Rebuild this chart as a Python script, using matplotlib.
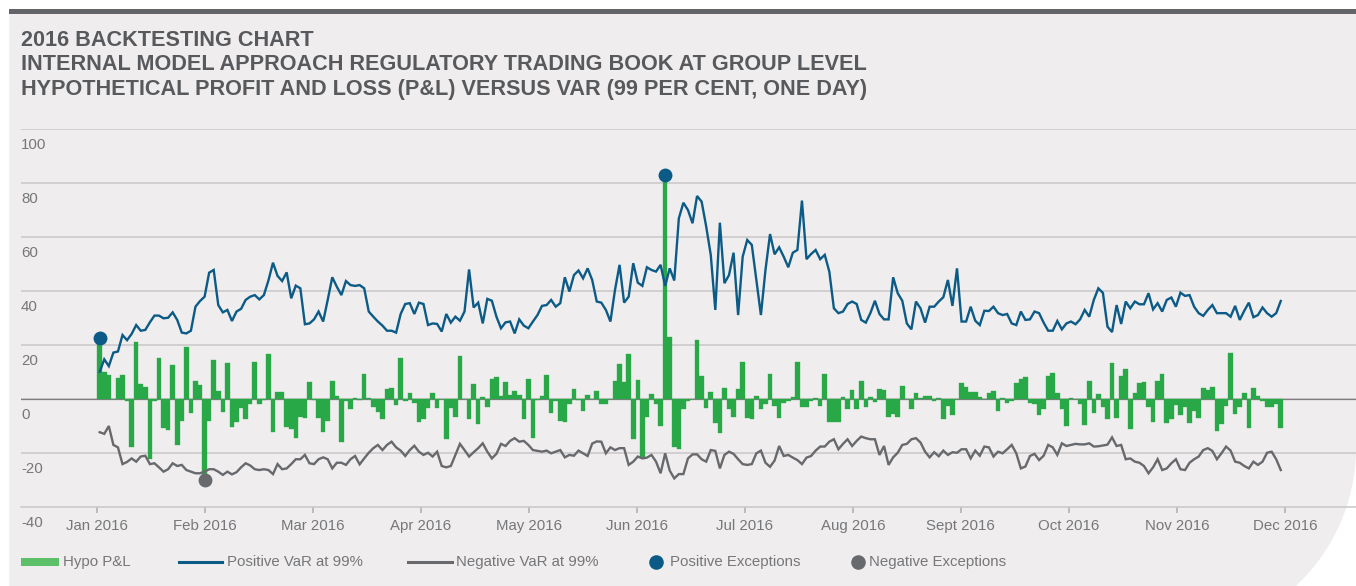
import numpy as np
import matplotlib
matplotlib.use("Agg")
import matplotlib.pyplot as plt
from matplotlib.patches import Rectangle, PathPatch
from matplotlib.path import Path
from matplotlib.lines import Line2D
import matplotlib.transforms as mtransforms

plt.rcParams['font.family'] = ['Liberation Sans', 'DejaVu Sans']

# ---- data (daily, Jan - Nov 2016) -------------------------------------------
hypo_pnl = [
    22.6, 10.1, 8.9, 0.0, 7.8, 8.9, -0.7, -17.5, 21.2, 5.7,
    4.6, -22.0, -0.7, 15.3, -10.5, -11.2, 12.7, -16.8, -7.9, 19.4,
    -4.9, 6.8, 5.3, -29.9, -7.9, 14.6, 3.1, -4.6, 13.5, -10.1,
    -8.3, -3.3, -7.2, -1.6, 13.8, -1.6, -0.3, 16.8, -12.0, 2.7,
    2.7, -10.1, -11.1, -14.4, -6.4, -7.0, 6.4, -0.3, -7.0, -12.0,
    -7.9, 6.8, 1.2, -16.0, -0.5, -3.7, 0.5, -0.2, 9.4, 0.5,
    -2.7, -4.6, -7.4, 3.7, 4.2, -2.1, 15.3, -0.5, 2.3, -1.2,
    -8.3, -7.4, -3.3, 2.3, -3.3, 0.0, -14.8, -3.3, -6.4, 15.9,
    0.0, -7.2, 5.7, -9.3, 0.7, -3.0, 7.4, 8.3, 1.2, 6.4,
    1.6, 3.1, 1.6, -7.2, 7.4, -14.4, -0.2, 1.2, 9.0, -4.9,
    -0.7, -7.9, -8.3, -1.9, 3.7, -0.2, -4.2, 1.6, 0.0, 3.1,
    -1.9, -1.9, 0.0, 6.8, 13.1, 6.5, 16.8, -14.8, 7.2, -21.2,
    -6.7, 1.9, -1.9, -9.8, 83.1, 23.1, -17.8, -18.5, -3.7, -0.7,
    0.0, 22.0, 8.6, -3.1, 2.6, -8.9, -12.3, 4.1, -3.7, -6.4,
    3.7, 13.8, -7.0, -7.4, 1.2, -3.7, -1.9, 9.3, -2.3, -7.0,
    -1.5, -0.5, 0.7, 13.8, -3.0, -3.0, -0.7, 0.4, -2.3, 9.4,
    -8.5, -8.3, -8.5, 0.9, -3.7, 3.5, -3.5, 6.8, -2.7, 0.9,
    -1.1, 3.8, 3.5, -6.4, -5.4, -6.7, 4.9, 0.0, -3.7, 2.3,
    0.6, 1.2, 1.2, -0.5, 0.5, -7.2, -2.3, -5.7, 0.0, 6.2,
    4.6, 2.7, 2.7, 0.9, 0.0, 2.3, 3.1, -4.2, 0.4, -1.2,
    -0.7, 6.0, 7.5, 8.3, -1.2, -1.9, -5.7, -3.5, 8.6, 9.8,
    2.5, -3.5, -9.8, 0.5, 0.0, -1.6, -9.4, 6.8, -4.9, 2.0,
    -3.0, -7.4, 13.6, -6.8, 8.6, 11.2, -11.1, 2.2, 6.2, 6.4,
    -2.7, -8.3, 6.8, 9.4, -8.9, -7.2, -2.1, -5.7, -3.0, -8.6,
    -4.2, -7.0, 4.1, 3.3, 4.4, -11.6, -9.3, -2.3, 17.0, -5.6,
    -2.7, 2.3, -10.7, 4.1, 1.1, -0.7, -3.0, -3.0, -1.6, -10.5,
]

var_pos = [
    10.2, 14.8, 12.3, 17.3, 17.7, 23.8, 21.9, 24.2, 27.5, 25.4,
    25.7, 28.5, 31.0, 31.0, 30.0, 30.2, 32.2, 29.4, 24.7, 24.4,
    25.4, 34.3, 36.4, 38.0, 46.9, 47.9, 34.9, 32.2, 33.1, 29.0,
    32.5, 33.5, 36.8, 38.0, 38.6, 37.0, 38.6, 44.0, 50.6, 45.7,
    43.8, 47.0, 37.4, 42.1, 41.1, 27.8, 28.1, 29.6, 32.5, 28.8,
    36.8, 45.2, 41.7, 38.6, 43.8, 42.3, 42.0, 42.3, 41.1, 32.5,
    30.6, 28.8, 27.3, 25.4, 25.4, 24.7, 31.6, 35.3, 35.6, 31.6,
    35.8, 35.3, 27.5, 28.1, 27.9, 25.1, 31.6, 28.4, 30.6, 29.1,
    32.5, 48.1, 34.0, 35.8, 28.1, 37.2, 36.5, 30.6, 26.3, 28.5,
    28.8, 24.4, 29.6, 27.3, 26.3, 28.8, 31.2, 34.6, 34.9, 36.8,
    34.3, 35.6, 45.2, 39.9, 46.0, 47.7, 44.8, 48.5, 44.2, 36.2,
    35.8, 33.1, 28.8, 40.5, 49.8, 35.8, 38.0, 50.4, 43.2, 42.0,
    48.9, 47.9, 47.3, 49.8, 42.0, 48.5, 44.0, 67.0, 72.8, 70.1,
    65.2, 75.3, 73.2, 64.0, 53.5, 33.1, 65.4, 43.0, 46.0, 54.3,
    31.2, 52.8, 59.0, 57.2, 44.2, 31.2, 47.9, 61.2, 53.7, 56.3,
    52.8, 48.9, 54.3, 55.3, 73.6, 51.9, 53.8, 55.3, 51.9, 53.5,
    47.3, 33.7, 31.9, 32.5, 35.3, 36.2, 35.3, 29.4, 28.4, 31.9,
    36.5, 31.6, 29.6, 29.6, 45.2, 39.3, 36.5, 28.1, 25.9, 36.2,
    33.7, 28.4, 34.3, 34.3, 36.2, 37.8, 44.2, 34.6, 48.5, 28.8,
    28.8, 34.3, 29.1, 27.5, 32.8, 32.7, 34.3, 31.9, 31.2, 31.6,
    28.1, 27.5, 32.5, 29.4, 29.6, 32.5, 31.9, 28.4, 25.4, 25.4,
    29.0, 25.9, 28.1, 28.8, 27.8, 29.6, 33.1, 30.6, 36.8, 41.1,
    39.4, 26.9, 24.9, 34.9, 27.9, 36.2, 33.7, 36.2, 35.2, 35.2,
    39.3, 33.3, 35.6, 32.5, 36.8, 37.7, 34.3, 39.5, 38.3, 38.6,
    34.3, 31.9, 30.9, 33.1, 34.9, 31.9, 31.9, 31.9, 30.6, 34.6,
    29.4, 32.8, 35.8, 30.4, 31.2, 34.0, 31.9, 30.6, 31.9, 36.4,
]

var_neg = [
    -12.2, -12.8, -9.9, -16.9, -17.8, -24.0, -23.2, -21.9, -23.1, -21.2,
    -20.9, -24.0, -23.7, -25.2, -26.8, -25.9, -23.7, -24.7, -24.3, -26.2,
    -26.8, -27.4, -27.4, -26.8, -25.9, -25.9, -26.8, -28.0, -26.8, -27.8,
    -27.0, -25.2, -23.7, -24.5, -25.9, -26.2, -25.9, -26.2, -27.7, -24.0,
    -25.9, -25.6, -24.0, -22.2, -22.2, -20.6, -23.7, -24.0, -22.2, -21.5,
    -22.2, -25.6, -23.5, -23.5, -24.3, -22.2, -21.0, -24.1, -21.9, -19.8,
    -18.1, -16.9, -18.8, -16.9, -15.7, -17.8, -19.0, -21.0, -18.8, -17.2,
    -19.4, -20.6, -19.8, -21.2, -19.4, -24.7, -25.2, -24.7, -20.6, -16.5,
    -18.8, -21.2, -19.6, -18.1, -16.3, -19.4, -21.9, -20.2, -16.5, -17.3,
    -15.4, -14.4, -15.7, -15.4, -16.9, -18.8, -19.1, -19.4, -19.0, -20.0,
    -19.4, -18.8, -21.5, -20.6, -20.9, -19.0, -20.0, -21.0, -16.4, -15.6,
    -15.7, -20.0, -17.8, -18.8, -18.1, -18.1, -24.3, -23.1, -21.2, -21.9,
    -21.6, -20.6, -23.1, -27.4, -20.0, -26.4, -29.3, -27.7, -27.7, -21.9,
    -20.4, -20.4, -22.2, -23.1, -18.8, -19.1, -25.6, -20.6, -19.4, -20.2,
    -22.2, -24.0, -24.3, -24.0, -20.0, -19.0, -23.5, -25.0, -22.7, -17.3,
    -21.0, -20.6, -21.6, -22.5, -24.0, -21.6, -21.0, -19.0, -17.5, -17.5,
    -15.7, -14.8, -18.5, -16.5, -14.8, -17.3, -15.4, -13.8, -14.4, -14.8,
    -14.8, -20.6, -17.3, -24.3, -21.5, -19.8, -16.9, -16.5, -14.8, -14.4,
    -16.0, -19.4, -21.5, -19.6, -21.1, -19.0, -20.6, -19.6, -19.8, -18.5,
    -18.5, -21.9, -19.0, -20.9, -17.5, -17.8, -21.2, -19.4, -20.0, -18.5,
    -16.9, -20.0, -25.6, -24.9, -21.0, -20.2, -22.5, -20.9, -16.9, -17.8,
    -20.6, -16.3, -17.3, -16.9, -16.5, -16.7, -16.7, -16.3, -17.5, -17.4,
    -17.1, -16.8, -14.1, -17.3, -16.9, -22.2, -21.9, -23.1, -23.5, -24.7,
    -27.4, -25.2, -22.2, -26.2, -25.6, -23.7, -22.2, -25.9, -26.2, -23.5,
    -22.2, -21.2, -18.8, -18.1, -19.1, -22.2, -20.0, -17.5, -19.0, -23.1,
    -23.5, -24.7, -25.6, -23.1, -24.3, -23.1, -19.8, -19.4, -22.2, -26.2,
]

months = ['Jan 2016', 'Feb 2016', 'Mar 2016', 'Apr 2016', 'May 2016', 'Jun 2016',
          'Jul 2016', 'Aug 2016', 'Sept 2016', 'Oct 2016', 'Nov 2016', 'Dec 2016']
y_ticks = [100, 80, 60, 40, 20, 0, -20, -40]

title_lines = [
    '2016 BACKTESTING CHART',
    'INTERNAL MODEL APPROACH REGULATORY TRADING BOOK AT GROUP LEVEL',
    'HYPOTHETICAL PROFIT AND LOSS (P&L) VERSUS VAR (99 PER CENT, ONE DAY)',
]

# ---- colours ------------------------------------------------------------
C_BG = '#efeded'
C_GREEN = '#29a847'
C_GREEN_LEG = '#5dbf68'
C_BLUE = '#0c5b86'
C_GREY = '#68696d'
C_GRID = '#c9c7c7'
C_TEXT = '#76777a'
C_TITLE = '#58595c'

pnl = np.array(hypo_pnl)
vpos = np.array(var_pos)
vneg = np.array(var_neg)
day = np.arange(len(pnl))
pos_exc = pnl > vpos
neg_exc = pnl < vneg

W, H = 1356, 586
fig = plt.figure(figsize=(W / 100, H / 100), dpi=100, facecolor='white')


def fx(px):
    return px / W


def fy(py):
    return 1 - py / H


# background panel with the rounded lower-right corner
cx, cy, r = 1168, 448, 188
ang = np.linspace(0, np.pi / 2, 40)
arc = [(cx + r * np.cos(a), cy + r * np.sin(a)) for a in ang]
verts = [(9.3, 14), (W, 14)] + arc + [(9.3, cy + r), (9.3, 14)]
verts = [(fx(x), fy(y)) for x, y in verts]
codes = [Path.MOVETO] + [Path.LINETO] * (len(verts) - 2) + [Path.CLOSEPOLY]
fig.add_artist(PathPatch(Path(verts, codes), transform=fig.transFigure,
                         facecolor=C_BG, edgecolor='none', zorder=-10))
fig.add_artist(Rectangle((fx(9.3), fy(14)), 1 - fx(9.3), fy(9.3) - fy(14),
                         transform=fig.transFigure, facecolor='#636468',
                         edgecolor='none', zorder=-9))

for k, line in enumerate(title_lines):
    fig.text(fx(21), fy(46 + 24.3 * k), line, fontsize=15.6, fontweight='bold',
             color=C_TITLE, va='baseline', ha='left')

# ---- main axes ----------------------------------------------------------
ax = fig.add_axes([fx(21), fy(507.3), 1 - fx(21), fy(129.3) - fy(507.3)])
ax.set_facecolor('none')
ax.set_xlim(-17.26, 275.5)
ax.set_ylim(-40, 100)

for v in y_ticks[:-1]:
    ax.axhline(v, color=C_GRID, lw=1.1, zorder=0)
ax.axhline(0, color='#7d7d7f', lw=0.9, zorder=1)

ax.bar(day, pnl, width=1.0, color=C_GREEN, edgecolor=C_GREEN, linewidth=0.25,
       zorder=2)
ax.plot(day, vpos, color=C_BLUE, lw=1.7, zorder=3, solid_joinstyle='miter')
ax.plot(day, vneg, color=C_GREY, lw=1.7, zorder=3, solid_joinstyle='miter')
ax.plot(day[pos_exc], pnl[pos_exc], 'o', ms=10, color=C_BLUE, mec='none',
        zorder=5, clip_on=False)
ax.plot(day[neg_exc], pnl[neg_exc], 'o', ms=10, color=C_GREY, mec='none',
        zorder=5, clip_on=False)

for s in ['top', 'right', 'left']:
    ax.spines[s].set_visible(False)
ax.spines['bottom'].set_color(C_GRID)
ax.spines['bottom'].set_linewidth(1.1)

ax.set_yticks([])
trans = mtransforms.blended_transform_factory(ax.transAxes, ax.transData)
for v in y_ticks:
    ax.annotate(str(v), xy=(0, v), xycoords=trans, xytext=(0, -20),
                textcoords='offset pixels', fontsize=10.8, color=C_TEXT,
                ha='left', va='baseline')

month_ticks = -0.6 + 23.68 * np.arange(len(months))
ax.set_xticks(month_ticks)
ax.set_xticklabels(months)
ax.tick_params(axis='x', length=4.3, width=1.1, color='#aeadad', pad=4,
               labelsize=10.8, labelcolor=C_TEXT)

# ---- legend -------------------------------------------------------------
ly = 562
fig.add_artist(Rectangle((fx(21), fy(566)), fx(59) - fx(21), fy(558) - fy(566),
                         transform=fig.transFigure, facecolor=C_GREEN_LEG,
                         edgecolor='none'))
fig.add_artist(Line2D([fx(179), fx(222)], [fy(ly), fy(ly)], transform=fig.transFigure,
                      color=C_BLUE, lw=2.2))
fig.add_artist(Line2D([fx(408), fx(452)], [fy(ly), fy(ly)], transform=fig.transFigure,
                      color=C_GREY, lw=2.2))
fig.add_artist(Line2D([fx(656)], [fy(ly)], transform=fig.transFigure, marker='o',
                      ms=10.5, color=C_BLUE, mec='none', lw=0))
fig.add_artist(Line2D([fx(858)], [fy(ly)], transform=fig.transFigure, marker='o',
                      ms=10.5, color=C_GREY, mec='none', lw=0))
legend_items = [(63, 'Hypo P&L'), (227, 'Positive VaR at 99%'),
                (456, 'Negative VaR at 99%'), (670, 'Positive Exceptions'),
                (869, 'Negative Exceptions')]
for x0, txt in legend_items:
    fig.text(fx(x0), fy(ly), txt, fontsize=10.8, color=C_TEXT,
             va='center', ha='left')

fig.savefig('out.png', dpi=100, facecolor='white')
